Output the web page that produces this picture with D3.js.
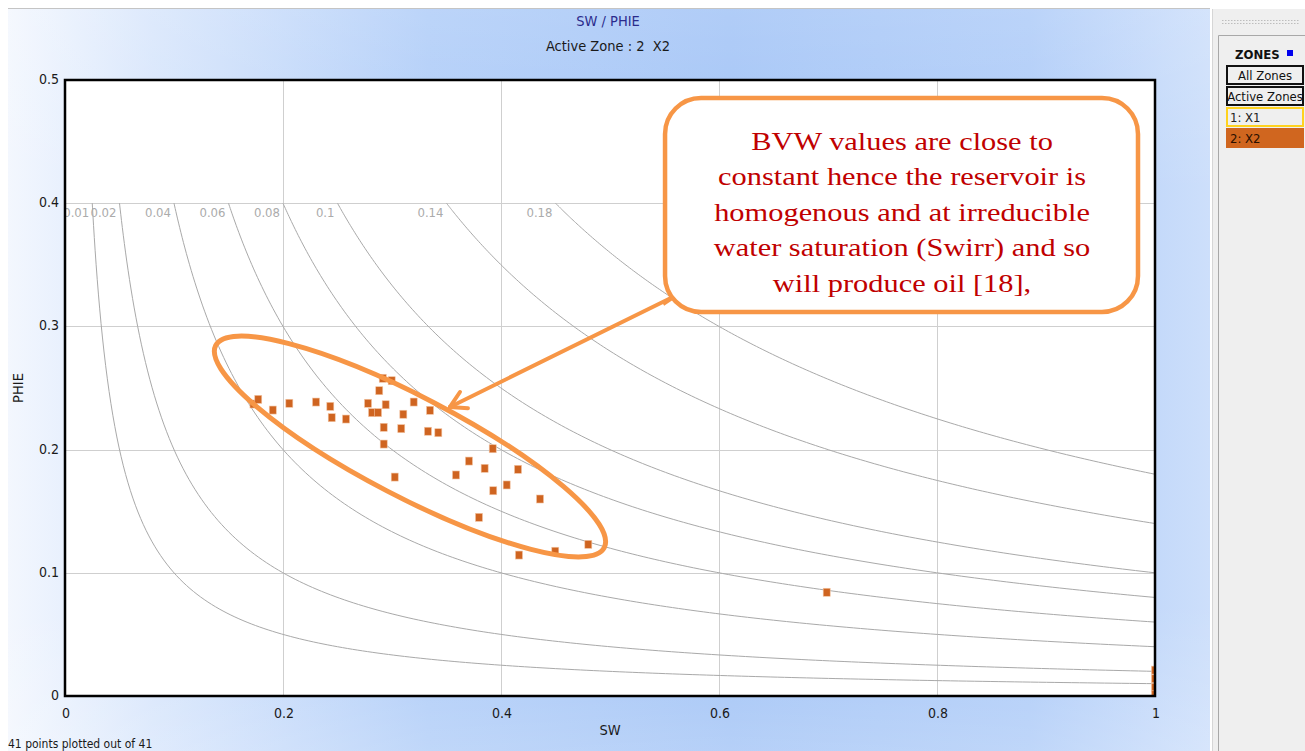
<!DOCTYPE html>
<html>
<head>
<meta charset="utf-8">
<script src="https://cdn.jsdelivr.net/npm/d3@7"></script>
<style>
  html, body { margin: 0; padding: 0; background: #ffffff; }
  svg { display: block; }
  .ui { font-family: Tahoma, "DejaVu Sans Condensed", "Liberation Sans", sans-serif; }
</style>
</head>
<body>
<svg id="chart" width="1305" height="751"></svg>
<script>
// Crossplot of water saturation (SW) against effective porosity (PHIE), zone X2
const sw = [0.1729, 0.1773, 0.1906, 0.2058, 0.2303, 0.2434, 0.2447, 0.2578, 0.2780, 0.2817,
            0.2872, 0.2942, 0.2883, 0.2915, 0.2997, 0.2924, 0.2924, 0.3025, 0.3104, 0.3085,
            0.3199, 0.3349, 0.3330, 0.3425, 0.3924, 0.3706, 0.3850, 0.4156, 0.3587, 0.4052,
            0.3929, 0.4358, 0.3798, 0.4801, 0.4498, 0.4165, 0.6988, 1.0, 1.0, 1.0, 1.0];
const phie = [0.2370, 0.2408, 0.2321, 0.2376, 0.2386, 0.2351, 0.2259, 0.2248, 0.2376, 0.2300,
              0.2300, 0.2364, 0.2478, 0.2579, 0.2559, 0.2181, 0.2045, 0.1777, 0.2287, 0.2170,
              0.2386, 0.2319, 0.2149, 0.2137, 0.2007, 0.1907, 0.1848, 0.1840, 0.1794, 0.1713,
              0.1666, 0.1599, 0.1450, 0.1231, 0.1175, 0.1144, 0.0842, 0.021, 0.014, 0.007, 0.001];

// Bulk volume water iso-lines (BVW = SW * PHIE)
const bvwLevels = [0.01, 0.02, 0.04, 0.06, 0.08, 0.1, 0.14, 0.18];
const bvwPhieTop = 0.4;

const xTicks = [0, 0.2, 0.4, 0.6, 0.8, 1];
const yTicks = [0, 0.1, 0.2, 0.3, 0.4, 0.5];

const titleText = "SW / PHIE";
const subtitleText = "Active Zone : 2  X2";
const footerText = "41 points plotted out of 41";
const zoneItems = ["All Zones", "Active Zones", "1: X1", "2: X2"];

const noteLines = ["BVW values are close to",
                   "constant hence the reservoir is",
                   "homogenous and at irreducible",
                   "water saturation (Swirr) and so",
                   "will produce oil [18],"];

const svg = d3.select("#chart");
const W = 1305, H = 751;
const plot = { left: 65, right: 1155, top: 80, bottom: 696 };

const x = d3.scaleLinear().domain([0, 1]).range([plot.left, plot.right]);
const y = d3.scaleLinear().domain([0, 0.5]).range([plot.bottom, plot.top]);

// ---- window background ----
const defs = svg.append("defs");
const bg = defs.append("linearGradient").attr("id", "bgGrad").attr("x1", 0).attr("x2", 1).attr("y1", 0).attr("y2", 0);
[[0, "#f3f7fe"], [0.12, "#d8e6fc"], [0.35, "#b0cdf8"], [0.6, "#a3c4f6"], [0.85, "#afccf8"], [1, "#cddffb"]]
  .forEach(([o, c]) => bg.append("stop").attr("offset", o).attr("stop-color", c));
const vg = defs.append("linearGradient").attr("id", "vGrad").attr("x1", 0).attr("x2", 0).attr("y1", 0).attr("y2", 1);
[[0, "#ffffff", 0.15], [0.25, "#ffffff", 0], [0.8, "#ffffff", 0], [1, "#ffffff", 0.2]]
  .forEach(([o, c, a]) => vg.append("stop").attr("offset", o).attr("stop-color", c).attr("stop-opacity", a));

svg.append("rect").attr("x", 0).attr("y", 0).attr("width", W).attr("height", H).attr("fill", "#ffffff");
svg.append("rect").attr("x", 8).attr("y", 9).attr("width", 1202).attr("height", H - 9).attr("fill", "url(#bgGrad)");
svg.append("rect").attr("x", 8).attr("y", 9).attr("width", 1202).attr("height", H - 9).attr("fill", "url(#vGrad)");
svg.append("line").attr("x1", 8).attr("x2", 1210).attr("y1", 8.5).attr("y2", 8.5).attr("stroke", "#c4c4c4");

// ---- titles ----
svg.append("text").attr("class", "ui").attr("x", 608).attr("y", 26).attr("text-anchor", "middle")
  .attr("font-size", 14.5).attr("fill", "#2b2b8c").text(titleText);
svg.append("text").attr("class", "ui").attr("x", 608).attr("y", 51).attr("text-anchor", "middle")
  .attr("font-size", 14.5).attr("fill", "#1a1a1a").attr("xml:space", "preserve").text(subtitleText);

// ---- plot area ----
svg.append("rect").attr("x", plot.left).attr("y", plot.top)
  .attr("width", plot.right - plot.left).attr("height", plot.bottom - plot.top).attr("fill", "#ffffff");

defs.append("clipPath").attr("id", "plotClip").append("rect")
  .attr("x", plot.left).attr("y", plot.top)
  .attr("width", plot.right - plot.left).attr("height", plot.bottom - plot.top);

const g = svg.append("g").attr("clip-path", "url(#plotClip)");

// grid
g.selectAll(".gx").data(xTicks.filter(d => d > 0 && d < 1)).join("line")
  .attr("x1", d => Math.round(x(d)) + 0.5).attr("x2", d => Math.round(x(d)) + 0.5)
  .attr("y1", plot.top).attr("y2", plot.bottom).attr("stroke", "#cfcfcf").attr("stroke-width", 1);
g.selectAll(".gy").data(yTicks.filter(d => d > 0 && d < 0.5)).join("line")
  .attr("y1", d => Math.round(y(d)) + 0.5).attr("y2", d => Math.round(y(d)) + 0.5)
  .attr("x1", plot.left).attr("x2", plot.right).attr("stroke", "#cfcfcf").attr("stroke-width", 1);

// BVW iso-lines
const curveLine = d3.line().x(d => x(d[0])).y(d => y(d[1]));
bvwLevels.forEach(b => {
  const s0 = b / bvwPhieTop;
  const pts = d3.range(0, 201).map(i => {
    const s = s0 + (1 - s0) * Math.pow(i / 200, 1.6);
    return [s, b / s];
  });
  g.append("path").attr("d", curveLine(pts)).attr("fill", "none")
    .attr("stroke", "#a9a9a9").attr("stroke-width", 1);
});
g.selectAll(".bvwLabel").data(bvwLevels).join("text")
  .attr("class", "ui")
  .attr("x", d => x(d / bvwPhieTop) - 3)
  .attr("y", y(bvwPhieTop) + 14)
  .attr("text-anchor", "end").attr("font-size", 13).attr("fill", "#ababab")
  .text(d => String(d));

// data points
g.selectAll(".pt").data(sw.map((s, i) => [s, phie[i]])).join("rect")
  .attr("x", d => x(d[0]) - 3.5).attr("y", d => y(d[1]) - 4)
  .attr("width", 7).attr("height", 8)
  .attr("fill", "#cf6420").attr("stroke", "#f2c4a2").attr("stroke-width", 0.6);

// frame
svg.append("rect").attr("x", plot.left).attr("y", plot.top)
  .attr("width", plot.right - plot.left).attr("height", plot.bottom - plot.top)
  .attr("fill", "none").attr("stroke", "#000").attr("stroke-width", 2.5);

// axis tick labels
svg.selectAll(".yl").data(yTicks).join("text").attr("class", "ui")
  .attr("x", plot.left - 6).attr("y", d => y(d) + 4)
  .attr("text-anchor", "end").attr("font-size", 14).attr("fill", "#1a1a1a")
  .text(d => String(d));
svg.selectAll(".xl").data(xTicks).join("text").attr("class", "ui")
  .attr("x", d => x(d) + 1).attr("y", plot.bottom + 22)
  .attr("text-anchor", "middle").attr("font-size", 14).attr("fill", "#1a1a1a")
  .text(d => String(d));

svg.append("text").attr("class", "ui").attr("x", 610).attr("y", 735).attr("text-anchor", "middle")
  .attr("font-size", 14.5).attr("fill", "#1a1a1a").text("SW");
svg.append("text").attr("class", "ui").attr("transform", "translate(23,388) rotate(-90)")
  .attr("text-anchor", "middle").attr("font-size", 14.5).attr("fill", "#1a1a1a").text("PHIE");

svg.append("text").attr("class", "ui").attr("x", 8).attr("y", 748)
  .attr("font-size", 12).attr("fill", "#1a1a1a").text(footerText);

// ---- annotation: ellipse around the cluster ----
const ellipseCenter = [0.3165, 0.2025];
const orange = "#f79646";
svg.append("ellipse")
  .attr("transform", `translate(${x(ellipseCenter[0])},${y(ellipseCenter[1])}) rotate(27.5)`)
  .attr("rx", 219).attr("ry", 50)
  .attr("fill", "none").attr("stroke", orange).attr("stroke-width", 5);

// ---- annotation: callout box with arrow ----
const boxSW = [0.5505, 0.9844], boxPHIE = [0.4854, 0.3117];
const arrowFrom = [0.5596, 0.3247], arrowTo = [0.3532, 0.2346];

const ax0 = x(arrowFrom[0]), ay0 = y(arrowFrom[1]);
const ax1 = x(arrowTo[0]), ay1 = y(arrowTo[1]);
const ang = Math.atan2(ay1 - ay0, ax1 - ax0);
svg.append("line").attr("x1", x(boxSW[0]) - 2).attr("y1", ay0 + 8).attr("x2", ax0).attr("y2", ay0)
  .attr("stroke", orange).attr("stroke-width", 4);
svg.append("line").attr("x1", ax0).attr("y1", ay0).attr("x2", ax1).attr("y2", ay1)
  .attr("stroke", orange).attr("stroke-width", 4).attr("stroke-linecap", "round");
const headLen = 18, headAng = Math.PI / 6;
[ -headAng, headAng ].forEach(da => {
  svg.append("line").attr("x1", ax1).attr("y1", ay1)
    .attr("x2", ax1 - headLen * Math.cos(ang + da)).attr("y2", ay1 - headLen * Math.sin(ang + da))
    .attr("stroke", orange).attr("stroke-width", 4).attr("stroke-linecap", "round");
});

const bx = x(boxSW[0]), bw = x(boxSW[1]) - x(boxSW[0]);
const by = y(boxPHIE[0]), bh = y(boxPHIE[1]) - y(boxPHIE[0]);
svg.append("rect").attr("x", bx).attr("y", by).attr("width", bw).attr("height", bh)
  .attr("rx", 36).attr("ry", 36)
  .attr("fill", "#ffffff").attr("stroke", orange).attr("stroke-width", 4.5);
svg.append("g")
  .attr("transform", `translate(${bx + bw / 2 + 0.5},0) scale(1.17,1)`)
  .selectAll("text").data(noteLines).join("text")
  .attr("x", 0).attr("y", (d, i) => by + 52 + i * 35.5)
  .attr("text-anchor", "middle")
  .attr("font-family", "'Liberation Serif', 'Times New Roman', serif")
  .attr("font-size", 26).attr("fill", "#c00000")
  .text(d => d);

// ---- zones panel ----
svg.append("rect").attr("x", 1212).attr("y", 9).attr("width", 93).attr("height", H - 9).attr("fill", "#efefef");
svg.append("line").attr("x1", 1212.5).attr("x2", 1212.5).attr("y1", 9).attr("y2", H).attr("stroke", "#d6d6d6");
svg.append("line").attr("x1", 1222).attr("x2", 1300).attr("y1", 20.5).attr("y2", 20.5)
  .attr("stroke", "#bdbdbd").attr("stroke-dasharray", "1.5,1.5");
svg.append("line").attr("x1", 1222).attr("x2", 1300).attr("y1", 23.5).attr("y2", 23.5)
  .attr("stroke", "#bdbdbd").attr("stroke-dasharray", "1.5,1.5");
svg.append("path").attr("d", `M1218.5,${H} V35.5 H1305`).attr("fill", "none").attr("stroke", "#a8a8a8");

svg.append("text").attr("class", "ui").attr("x", 1235).attr("y", 59)
  .attr("font-size", 13).attr("font-weight", "bold").attr("fill", "#111").text("ZONES");
svg.append("rect").attr("x", 1287).attr("y", 50).attr("width", 6).attr("height", 6).attr("fill", "#0000ee");

const zoneBoxes = [
  { y: 66, stroke: "#111111", fill: "#efefef", tx: "#111" },
  { y: 87, stroke: "#111111", fill: "#efefef", tx: "#111" },
  { y: 108, stroke: "#ffd21e", fill: "#efefef", tx: "#222" },
  { y: 129, stroke: "#d0661f", fill: "#d0661f", tx: "#2a1000" }
];
zoneItems.forEach((label, i) => {
  const zb = zoneBoxes[i];
  svg.append("rect").attr("x", 1227).attr("y", zb.y).attr("width", 76).attr("height", 18)
    .attr("fill", zb.fill).attr("stroke", zb.stroke).attr("stroke-width", 2);
  svg.append("text").attr("class", "ui").attr("x", i < 2 ? 1265 : 1230).attr("y", zb.y + 13.5)
    .attr("text-anchor", i < 2 ? "middle" : "start")
    .attr("font-size", 13).attr("fill", zb.tx).text(label);
});
</script>
</body>
</html>
